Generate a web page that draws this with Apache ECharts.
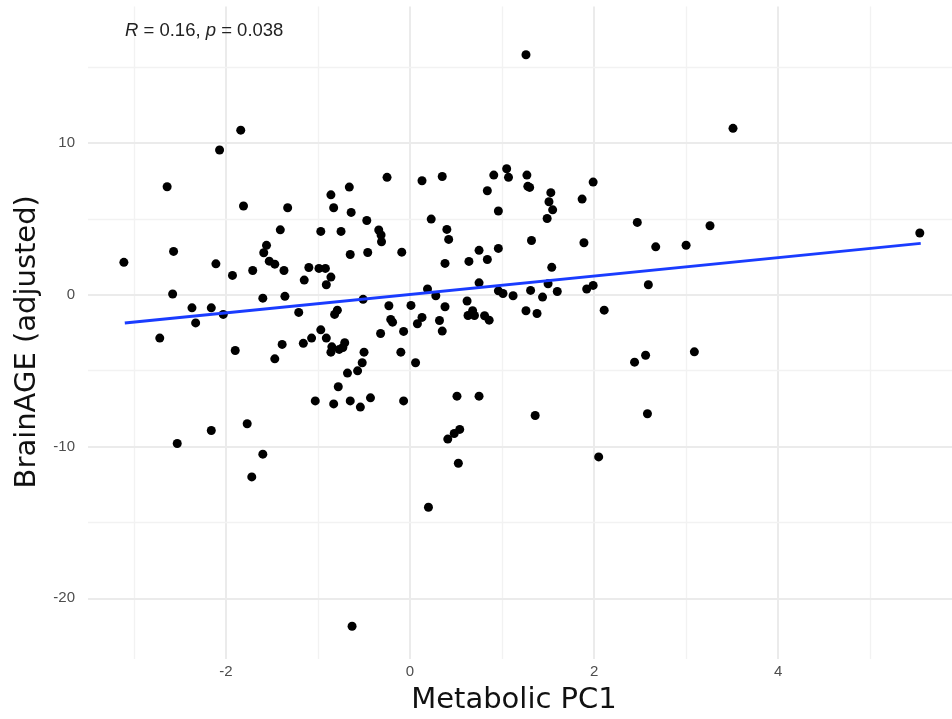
<!DOCTYPE html>
<html>
<head>
<meta charset="utf-8">
<script src="https://cdn.jsdelivr.net/npm/echarts@6/dist/echarts.min.js"></script>
<style>
  html, body { margin: 0; padding: 0; background: #fff; }
</style>
</head>
<body>
<div id="main" style="width: 952px;height:719px;"></div>

<script>
// scatter points: Metabolic PC1 vs BrainAGE (adjusted)
var pcX = [
  -1.84, -2.07, -2.64, -1.81, -1.33, -1.41, -1.56, -1.59, -2.57, -3.11,
  -2.11, -1.53, -1.47, -1.71, -1.37, -1.93, -2.58, -1.60, -1.36, -2.37,
  -2.16, -2.03, -2.33, -2.72, -1.90, -1.39, -1.47, -1.77, -2.16, -2.53,
  -1.60, -1.72,
  -0.25, 0.13, 0.35, -0.66, -0.86, -0.83, -0.64, -0.47, 0.23, -0.97,
  -0.75, -0.34, -0.315, -0.31, 0.40, 0.42, -0.09, -0.65, -0.46, 0.38,
  0.64, -1.10, -0.99, -0.92, -0.86, -1.15, -0.91, 0.19, 0.28, -0.51,
  -1.21, -0.79, -0.82, -0.23, 0.01, 0.38, 0.62, -0.21, -0.19, 0.13,
  0.08, 0.32, 0.35, -0.97, -0.32, -0.07, -1.16, -1.07, -0.91, -0.85,
  -0.86, -0.77, -0.71, -0.73, -0.50, -0.52, -0.57, -0.68, -0.10, 0.06,
  -0.78, -1.03, -0.83, -0.65, -0.54, -0.43, -0.07, 0.51, 0.54, 0.48,
  0.41, 0.525, 0.20, -0.63,
  1.26, 1.05, 0.91, 1.07, 1.27, 1.28, 1.30, 0.84, 1.99, 1.53,
  1.51, 1.55, 1.49, 1.87, 0.96, 2.47, 1.32, 1.89, 0.75, 0.96,
  0.84, 1.54, 0.75, 0.96, 1.01, 1.12, 1.31, 1.44, 1.50, 1.60,
  1.92, 1.99, 2.59, 1.26, 1.38, 2.11, 0.63, 0.68, 0.70, 0.81,
  0.86, 2.44, 2.56, 0.75, 1.36, 2.58, 2.05,
  3.51, 2.67, 3.00, 3.26, 5.54, 3.09
];
var brainAge = [
  10.85, 9.54, 7.12, 5.85, 5.74, 4.28, 3.26, 2.77, 2.86, 2.14,
  2.04, 2.22, 2.02, 1.60, 1.60, 1.28, 0.05, -0.22, -0.10, -0.86,
  -0.86, -1.29, -1.85, -2.85, -3.67, -3.27, -4.22, -8.50, -8.94, -9.80,
  -10.50, -12.00,
  7.74, 7.52, 7.80, 7.10, 6.59, 5.74, 5.43, 4.90, 4.99, 4.18,
  4.18, 4.27, 3.94, 3.50, 4.31, 3.65, 2.81, 2.66, 2.79, 2.07,
  2.20, 1.80, 1.74, 1.74, 1.17, 0.97, 0.66, 0.38, -0.06, -0.30,
  -1.16, -1.01, -1.29, -0.72, -0.70, -0.79, -0.41, -1.62, -1.80, -1.49,
  -1.91, -1.69, -2.39, -2.31, -2.55, -2.41, -3.20, -2.85, -2.85, -3.43,
  -3.78, -3.60, -3.16, -3.47, -3.78, -4.48, -5.01, -5.16, -3.78, -4.48,
  -6.06, -6.99, -7.19, -6.99, -7.40, -6.79, -6.99, -6.68, -8.87, -9.14,
  -9.51, -11.10, -14.00, -21.84,
  15.82, 8.31, 7.89, 7.74, 7.89, 7.15, 7.08, 6.86, 7.43, 6.73,
  6.13, 5.60, 5.03, 6.31, 5.52, 4.77, 3.58, 3.43, 2.93, 3.06,
  2.33, 1.81, 0.79, 0.26, 0.09, -0.06, 0.29, -0.15, 0.73, 0.22,
  0.38, 0.62, 0.66, -1.05, -1.23, -1.01, -1.36, -1.05, -1.36, -1.38,
  -1.67, -4.44, -3.98, -6.68, -7.95, -7.84, -10.68,
  10.97, 3.16, 3.27, 4.55, 4.07, -3.76
];

// fitted line endpoints (blue), as drawn
var fitX = [-3.1, 5.55];
var fitY = [-1.85, 3.39];

// tick labels and grid lines
var xTicks = [-2, 0, 2, 4];
var xMinor = [-3, -1, 1, 3, 5];
var yTicks = [-20, -10, 0, 10];
var yMinor = [-15, -5, 5, 15];

var points = [];
for (var i = 0; i < pcX.length; i++) {
  points.push([pcX[i], brainAge[i]]);
}
var fitLine = [];
for (var j = 0; j < fitX.length; j++) {
  fitLine.push([fitX[j], fitY[j]]);
}

var major = { color: '#ebebeb', width: 2, type: 'solid' };
var minor = { color: '#f2f2f2', width: 1.3, type: 'solid' };
var gridMarks = [];
xTicks.forEach(function (v) { gridMarks.push({ xAxis: v, lineStyle: major }); });
xMinor.forEach(function (v) { gridMarks.push({ xAxis: v, lineStyle: minor }); });
yTicks.forEach(function (v) { gridMarks.push({ yAxis: v, lineStyle: major }); });
yMinor.forEach(function (v) { gridMarks.push({ yAxis: v, lineStyle: minor }); });

var myChart = echarts.init(document.getElementById('main'));

var option = {
  backgroundColor: '#ffffff',
  animation: false,
  grid: { left: 88, right: 0, top: 6.5, bottom: 60, containLabel: false, outerBoundsMode: 'none' },
  xAxis: {
    type: 'value',
    min: -3.5,
    max: 5.89,
    name: 'Metabolic PC1',
    nameLocation: 'middle',
    nameGap: 27,
    nameTextStyle: { color: '#111', fontSize: 29, fontFamily: 'DejaVu Sans', padding: [0, 12, 0, 0] },
    axisLine: { show: false },
    axisTick: { show: false },
    splitLine: { show: false },
    axisLabel: {
      customValues: xTicks,
      color: '#4d4d4d', fontSize: 15, fontFamily: 'Liberation Sans', margin: 5
    }
  },
  yAxis: {
    type: 'value',
    min: -24,
    max: 19,
    name: 'BrainAGE (adjusted)',
    nameLocation: 'middle',
    nameRotate: 90,
    nameGap: 46,
    nameTextStyle: { color: '#111', fontSize: 29, fontFamily: 'DejaVu Sans', padding: [0, 18, 0, 0] },
    axisLine: { show: false },
    axisTick: { show: false },
    splitLine: { show: false },
    axisLabel: {
      customValues: yTicks,
      color: '#4d4d4d', fontSize: 15, fontFamily: 'Liberation Sans', margin: 13
    }
  },
  graphic: [{
    type: 'text',
    left: 125,
    top: 21,
    z: 10,
    style: {
      text: '{i|R} = 0.16, {i|p} = 0.038',
      fill: '#222',
      font: '18.5px "Liberation Sans"',
      rich: {
        i: { fontStyle: 'italic', fontSize: 18.5, fontFamily: 'Liberation Sans', fill: '#222' }
      }
    }
  }],
  series: [
    {
      name: 'grid',
      type: 'line',
      data: [],
      z: 1,
      silent: true,
      markLine: {
        silent: true,
        z: 0,
        symbol: ['none', 'none'],
        label: { show: false },
        animation: false,
        data: gridMarks
      }
    },
    {
      name: 'points',
      type: 'scatter',
      data: points,
      symbolSize: 9,
      z: 3,
      itemStyle: { color: '#000000', opacity: 1 }
    },
    {
      name: 'fit',
      type: 'line',
      data: fitLine,
      showSymbol: false,
      z: 4,
      lineStyle: { color: '#1a3cff', width: 3 }
    }
  ]
};

myChart.setOption(option);
</script>
</body>
</html>
